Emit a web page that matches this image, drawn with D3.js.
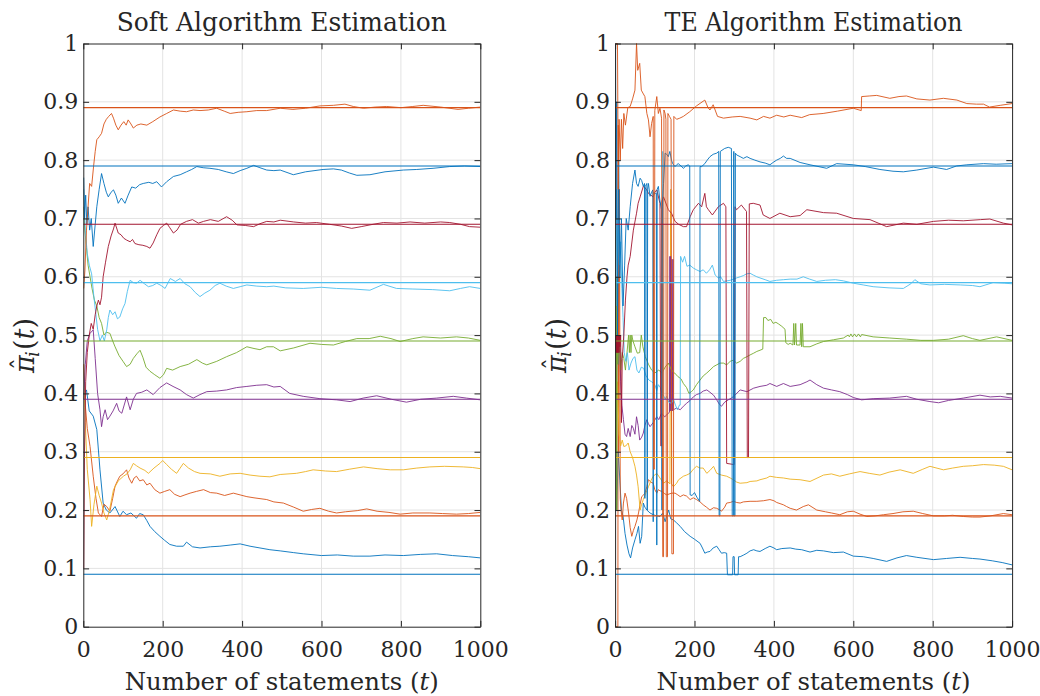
<!DOCTYPE html>
<html>
<head>
<meta charset="utf-8">
<script src="https://cdn.jsdelivr.net/npm/d3@7"></script>
<style>
body { margin: 0; background: #fff; }
text { font-family: "DejaVu Serif", "Liberation Serif", serif; fill: #262626; }
</style>
</head>
<body>
<svg id="chart" width="1040" height="696"></svg>
<script>
// true rates, one per source, and the MATLAB colour order they were drawn with
var trueRates = [0.09, 0.19, 0.29, 0.39, 0.49, 0.59, 0.69, 0.79, 0.89];
var lineColors = ["#0072BD", "#D95319", "#EDB120", "#7E2F8E", "#77AC30", "#4DBEEE", "#A2142F", "#0072BD", "#D95319"];
var xTicks = [0, 200, 400, 600, 800, 1000];
var yTicks = [0, 0.1, 0.2, 0.3, 0.4, 0.5, 0.6, 0.7, 0.8, 0.9, 1];
var yTickLabels = ["0", "0.1", "0.2", "0.3", "0.4", "0.5", "0.6", "0.7", "0.8", "0.9", "1"];
var panelTitles = ["Soft Algorithm Estimation", "TE Algorithm Estimation"];

// soft algorithm estimates, [t, pi_hat]
var soft09 = [[1,0.40],[8,0.406],[15,0.37],[25,0.361],[34,0.338],[42,0.269],[50,0.212],[58,0.20],[67,0.195],[80,0.206],[92,0.189],[100,0.198],[109,0.192],[120,0.195],[134,0.186],[142,0.194],[151,0.192],[160,0.182],[168,0.172],[180,0.163],[193,0.155],[205,0.148],[218,0.141],[235,0.138],[252,0.138],[260,0.145],[275,0.137],[294,0.135],[320,0.137],[344,0.138],[370,0.140],[395,0.142],[420,0.138],[445,0.135],[470,0.132],[496,0.130],[530,0.127],[554,0.125],[600,0.122],[640,0.123],[680,0.121],[722,0.121],[760,0.123],[806,0.122],[850,0.124],[890,0.125],[930,0.122],[970,0.120],[1000,0.118]];
var soft19 = [[1,0.45],[5,0.38],[10,0.34],[17,0.309],[25,0.258],[32,0.22],[38,0.195],[46,0.189],[52,0.21],[59,0.206],[67,0.198],[74,0.22],[80,0.241],[86,0.25],[92,0.258],[100,0.262],[109,0.269],[115,0.255],[122,0.246],[128,0.255],[134,0.258],[142,0.25],[151,0.252],[160,0.243],[168,0.246],[180,0.235],[193,0.229],[205,0.232],[218,0.235],[230,0.227],[244,0.223],[256,0.226],[269,0.229],[285,0.232],[303,0.235],[320,0.230],[336,0.229],[356,0.225],[378,0.229],[395,0.226],[412,0.223],[430,0.221],[462,0.218],[480,0.214],[504,0.212],[530,0.205],[554,0.198],[575,0.201],[596,0.203],[618,0.198],[638,0.195],[660,0.197],[690,0.199],[714,0.202],[740,0.198],[770,0.196],[798,0.193],[830,0.195],[873,0.195],[905,0.194],[940,0.193],[970,0.194],[1000,0.196]];
var soft29 = [[1,0.45],[5,0.35],[10,0.27],[17,0.218],[21,0.172],[27,0.21],[34,0.241],[40,0.225],[46,0.212],[52,0.195],[59,0.183],[66,0.2],[76,0.235],[88,0.25],[101,0.258],[110,0.262],[118,0.269],[126,0.28],[134,0.276],[143,0.272],[155,0.268],[164,0.263],[178,0.272],[193,0.28],[200,0.285],[210,0.278],[222,0.27],[235,0.263],[244,0.272],[252,0.28],[265,0.272],[280,0.266],[294,0.263],[320,0.262],[344,0.258],[370,0.262],[395,0.263],[420,0.26],[445,0.258],[470,0.257],[496,0.261],[537,0.263],[560,0.266],[579,0.269],[610,0.267],[638,0.266],[670,0.270],[706,0.274],[740,0.271],[773,0.269],[806,0.269],[840,0.272],[873,0.274],[910,0.275],[957,0.274],[980,0.273],[1000,0.271]];
var soft39 = [[1,0.39],[5,0.45],[10,0.49],[17,0.503],[25,0.509],[30,0.46],[36,0.40],[42,0.372],[46,0.343],[50,0.36],[55,0.372],[61,0.355],[67,0.361],[75,0.37],[84,0.383],[90,0.37],[97,0.366],[103,0.38],[109,0.394],[118,0.372],[126,0.39],[134,0.4],[147,0.402],[160,0.406],[176,0.398],[193,0.41],[210,0.418],[226,0.412],[244,0.406],[260,0.398],[277,0.392],[294,0.398],[311,0.403],[336,0.404],[361,0.406],[386,0.41],[412,0.412],[437,0.414],[462,0.415],[480,0.411],[496,0.412],[520,0.40],[554,0.395],[596,0.391],[638,0.389],[672,0.386],[705,0.392],[739,0.396],[776,0.39],[814,0.385],[850,0.39],[890,0.392],[932,0.395],[965,0.392],[1000,0.389]];
var soft49 = [[1,0.72],[4,0.68],[8,0.65],[12,0.62],[17,0.60],[22,0.58],[28,0.56],[34,0.55],[40,0.53],[46,0.52],[52,0.50],[58,0.505],[67,0.503],[74,0.49],[80,0.48],[90,0.465],[100,0.455],[109,0.446],[118,0.45],[126,0.46],[135,0.468],[143,0.474],[150,0.462],[158,0.445],[168,0.438],[180,0.432],[193,0.426],[202,0.432],[210,0.443],[225,0.44],[244,0.446],[265,0.45],[286,0.458],[300,0.452],[311,0.449],[336,0.455],[361,0.463],[386,0.47],[412,0.48],[430,0.477],[445,0.475],[462,0.48],[479,0.48],[496,0.473],[530,0.478],[571,0.486],[600,0.484],[630,0.483],[660,0.489],[689,0.494],[720,0.494],[748,0.498],[775,0.494],[798,0.489],[830,0.494],[856,0.497],[900,0.495],[940,0.497],[970,0.495],[1000,0.491]];
var soft59 = [[1,0.75],[5,0.68],[10,0.64],[15,0.62],[21,0.605],[26,0.57],[31,0.54],[36,0.51],[42,0.49],[48,0.50],[53,0.49],[59,0.509],[63,0.53],[67,0.543],[74,0.535],[80,0.54],[86,0.528],[92,0.531],[99,0.545],[105,0.554],[111,0.575],[118,0.594],[126,0.59],[134,0.589],[143,0.594],[154,0.588],[164,0.583],[175,0.585],[185,0.589],[196,0.585],[206,0.58],[219,0.597],[232,0.592],[244,0.597],[256,0.588],[269,0.583],[282,0.573],[294,0.566],[306,0.572],[319,0.577],[332,0.585],[344,0.589],[360,0.584],[378,0.58],[395,0.583],[412,0.586],[437,0.584],[462,0.583],[480,0.584],[510,0.581],[554,0.58],[600,0.582],[638,0.58],[680,0.579],[722,0.577],[756,0.587],[789,0.58],[830,0.579],[880,0.578],[923,0.576],[950,0.58],[973,0.583],[1000,0.58]];
var soft69 = [[1,0.10],[3,0.30],[6,0.42],[10,0.47],[15,0.5],[20,0.52],[25,0.51],[30,0.535],[34,0.55],[38,0.56],[42,0.552],[46,0.565],[50,0.60],[56,0.625],[63,0.652],[70,0.67],[76,0.682],[80,0.692],[88,0.675],[95,0.672],[102,0.666],[109,0.663],[118,0.66],[124,0.664],[130,0.657],[140,0.655],[150,0.654],[160,0.652],[168,0.649],[176,0.658],[185,0.672],[193,0.683],[202,0.688],[210,0.692],[218,0.684],[227,0.675],[236,0.68],[245,0.69],[260,0.695],[275,0.698],[290,0.692],[303,0.695],[320,0.698],[340,0.695],[361,0.703],[375,0.697],[387,0.689],[408,0.688],[429,0.686],[445,0.691],[462,0.695],[480,0.694],[496,0.697],[530,0.694],[560,0.692],[587,0.693],[620,0.690],[650,0.687],[676,0.683],[700,0.686],[730,0.69],[756,0.693],[790,0.692],[823,0.694],[860,0.692],[900,0.694],[923,0.693],[950,0.69],[973,0.686],[1000,0.685]];
var soft79 = [[1,0.77],[3,0.70],[6,0.74],[9,0.69],[12,0.72],[16,0.68],[20,0.70],[25,0.652],[30,0.69],[34,0.72],[40,0.75],[46,0.777],[52,0.76],[58,0.745],[63,0.737],[70,0.745],[76,0.749],[82,0.74],[88,0.726],[96,0.735],[105,0.726],[113,0.74],[122,0.754],[132,0.752],[142,0.758],[151,0.76],[165,0.762],[175,0.76],[185,0.763],[197,0.754],[210,0.763],[227,0.772],[244,0.775],[260,0.78],[273,0.784],[286,0.789],[302,0.787],[319,0.786],[340,0.784],[360,0.78],[378,0.777],[395,0.782],[412,0.786],[429,0.791],[445,0.787],[462,0.783],[480,0.782],[496,0.783],[529,0.775],[560,0.78],[604,0.784],[630,0.785],[650,0.783],[670,0.778],[689,0.774],[722,0.775],[760,0.78],[806,0.783],[840,0.784],[881,0.786],[923,0.789],[960,0.79],[1000,0.789]];
var soft89 = [[1,0.58],[4,0.61],[8,0.68],[12,0.72],[16,0.76],[21,0.755],[26,0.79],[30,0.815],[34,0.835],[40,0.84],[46,0.846],[52,0.862],[58,0.87],[64,0.875],[71,0.88],[76,0.872],[82,0.86],[88,0.852],[95,0.86],[102,0.866],[108,0.86],[113,0.869],[120,0.862],[126,0.855],[135,0.86],[145,0.862],[160,0.86],[175,0.866],[193,0.874],[210,0.88],[227,0.886],[244,0.884],[260,0.883],[277,0.886],[294,0.885],[315,0.886],[336,0.889],[355,0.884],[370,0.88],[390,0.882],[412,0.883],[437,0.885],[462,0.885],[496,0.889],[528,0.887],[560,0.889],[596,0.893],[630,0.894],[659,0.896],[680,0.892],[706,0.889],[735,0.891],[764,0.892],[800,0.89],[830,0.892],[856,0.894],[900,0.891],[944,0.887],[970,0.889],[1000,0.891]];

// TE algorithm estimates, [t, pi_hat]; repeated t values are the sudden jumps
var te09 = [[1,0.45],[4,0.2],[8,0.3],[12,0.25],[16,0.2],[20,0.19],[25,0.16],[30,0.14],[35,0.125],[39,0.118],[44,0.135],[50,0.149],[55,0.16],[59,0.172],[63,0.143],[67,0.155],[71,0.212],[75,0.205],[80,0.2],[88,0.195],[96,0.192],[105,0.19],[113,0.189],[120,0.195],[126,0.18],[130,0.19],[135,0.2],[140,0.185],[147,0.183],[155,0.178],[164,0.172],[175,0.163],[189,0.155],[200,0.15],[214,0.143],[220,0.135],[226,0.126],[232,0.128],[239,0.129],[247,0.135],[256,0.138],[262,0.132],[268,0.126],[275,0.127],[281,0.126],[283,0.089],[296,0.089],[297,0.12],[300,0.12],[301,0.089],[310,0.089],[311,0.12],[315,0.12],[324,0.123],[332,0.126],[340,0.13],[349,0.132],[357,0.13],[365,0.129],[378,0.134],[390,0.138],[400,0.135],[407,0.132],[420,0.134],[441,0.135],[455,0.133],[470,0.132],[491,0.128],[508,0.131],[525,0.13],[550,0.127],[575,0.128],[600,0.121],[625,0.12],[650,0.117],[684,0.112],[710,0.118],[734,0.122],[760,0.119],[802,0.115],[835,0.117],[869,0.119],[900,0.117],[919,0.116],[950,0.113],[975,0.11],[1000,0.106]];
var te19 = [[1,0.0],[7,0.0],[8,0.86],[9,0.3],[11,0.75],[13,0.22],[15,0.2],[18,0.183],[21,0.212],[25,0.229],[29,0.22],[34,0.195],[38,0.17],[42,0.155],[46,0.165],[50,0.172],[55,0.183],[59,0.195],[63,0.21],[67,0.223],[72,0.226],[75,0.229],[80,0.24],[84,0.252],[90,0.248],[96,0.246],[100,0.235],[105,0.229],[109,0.235],[113,0.233],[119,0.232],[125,0.228],[130,0.226],[138,0.228],[143,0.229],[151,0.229],[158,0.226],[164,0.223],[172,0.226],[180,0.224],[189,0.218],[197,0.221],[205,0.218],[214,0.214],[222,0.209],[230,0.205],[239,0.2],[248,0.204],[256,0.203],[264,0.2],[268,0.198],[276,0.205],[281,0.212],[290,0.213],[298,0.215],[306,0.213],[315,0.212],[323,0.214],[340,0.215],[357,0.215],[374,0.216],[390,0.218],[400,0.216],[407,0.213],[424,0.209],[432,0.206],[441,0.203],[457,0.2],[474,0.206],[487,0.209],[508,0.2],[530,0.197],[545,0.195],[566,0.192],[585,0.197],[600,0.198],[617,0.193],[634,0.189],[655,0.19],[676,0.192],[700,0.194],[725,0.197],[751,0.198],[775,0.194],[802,0.19],[830,0.19],[850,0.191],[877,0.189],[900,0.188],[919,0.188],[945,0.19],[978,0.194],[1000,0.192]];
var te29 = [[1,0.5],[3,0.3],[6,0.42],[10,0.33],[14,0.31],[18,0.32],[22,0.309],[27,0.31],[33,0.315],[38,0.3],[44,0.29],[50,0.275],[54,0.26],[58,0.24],[63,0.2],[67,0.21],[71,0.218],[78,0.23],[84,0.24],[90,0.25],[96,0.258],[105,0.263],[113,0.255],[122,0.246],[130,0.25],[138,0.245],[140,0.75],[142,0.245],[147,0.24],[155,0.246],[160,0.252],[172,0.258],[180,0.26],[189,0.263],[197,0.27],[205,0.275],[214,0.272],[222,0.272],[231,0.263],[239,0.268],[248,0.275],[256,0.263],[268,0.26],[281,0.258],[290,0.255],[298,0.252],[306,0.248],[315,0.246],[332,0.247],[340,0.249],[357,0.25],[365,0.252],[382,0.255],[390,0.258],[407,0.256],[424,0.255],[441,0.253],[466,0.252],[491,0.249],[525,0.26],[545,0.262],[566,0.258],[590,0.262],[617,0.266],[640,0.263],[667,0.26],[690,0.265],[718,0.269],[751,0.263],[775,0.27],[793,0.275],[827,0.269],[850,0.272],[877,0.275],[900,0.276],[928,0.278],[955,0.277],[978,0.275],[1000,0.269]];
var te39 = [[1,0.5],[3,0.35],[5,0.5],[8,0.45],[11,0.5],[14,0.42],[17,0.38],[21,0.355],[25,0.33],[29,0.326],[33,0.34],[38,0.326],[42,0.345],[46,0.34],[50,0.33],[54,0.36],[58,0.345],[62,0.32],[67,0.325],[71,0.332],[75,0.345],[80,0.355],[84,0.348],[88,0.343],[96,0.35],[105,0.36],[110,0.355],[117,0.366],[125,0.36],[130,0.363],[137,0.368],[138,0.635],[139,0.37],[140,0.635],[142,0.37],[143,0.63],[145,0.37],[146,0.63],[147,0.372],[155,0.375],[164,0.372],[172,0.378],[180,0.383],[189,0.388],[197,0.394],[205,0.398],[214,0.4],[222,0.404],[231,0.406],[239,0.402],[248,0.397],[256,0.389],[262,0.382],[268,0.378],[276,0.385],[285,0.389],[293,0.392],[302,0.397],[315,0.406],[332,0.403],[349,0.409],[365,0.412],[382,0.414],[390,0.417],[407,0.412],[424,0.417],[441,0.412],[466,0.415],[483,0.42],[491,0.423],[508,0.415],[525,0.409],[545,0.406],[566,0.403],[585,0.398],[600,0.393],[621,0.389],[650,0.391],[692,0.392],[734,0.395],[760,0.39],[793,0.386],[815,0.384],[840,0.388],[877,0.392],[919,0.397],[945,0.394],[970,0.395],[1000,0.392]];
var te49 = [[1,0.68],[2,0.3],[3,0.6],[4,0.2],[5,0.5],[7,0.45],[10,0.5],[14,0.44],[18,0.47],[22,0.46],[26,0.44],[30,0.47],[34,0.5],[36,0.47],[38,0.5],[40,0.47],[42,0.5],[45,0.49],[50,0.48],[56,0.469],[62,0.47],[66,0.5],[70,0.48],[76,0.463],[84,0.45],[92,0.44],[100,0.435],[110,0.44],[118,0.435],[126,0.445],[134,0.452],[142,0.44],[150,0.435],[158,0.429],[166,0.425],[172,0.417],[180,0.41],[186,0.4],[192,0.403],[197,0.406],[205,0.415],[214,0.423],[222,0.43],[231,0.435],[239,0.44],[248,0.446],[256,0.449],[264,0.452],[273,0.452],[281,0.449],[290,0.455],[298,0.457],[306,0.452],[315,0.455],[323,0.46],[332,0.463],[340,0.466],[349,0.469],[357,0.472],[365,0.474],[372,0.476],[374,0.53],[380,0.53],[385,0.525],[392,0.527],[398,0.52],[405,0.522],[412,0.519],[420,0.515],[428,0.51],[430,0.487],[436,0.484],[441,0.486],[448,0.483],[450,0.52],[452,0.483],[455,0.52],[457,0.483],[466,0.483],[468,0.52],[470,0.48],[472,0.52],[474,0.48],[491,0.48],[508,0.485],[525,0.489],[550,0.492],[575,0.495],[587,0.5],[590,0.497],[594,0.502],[598,0.497],[603,0.502],[608,0.497],[613,0.502],[618,0.497],[621,0.501],[650,0.497],[692,0.495],[734,0.493],[770,0.491],[802,0.491],[840,0.493],[877,0.499],[900,0.494],[919,0.491],[961,0.497],[1000,0.491]];
var te59 = [[1,0.6],[3,0.75],[5,0.55],[8,0.7],[11,0.62],[14,0.66],[17,0.58],[20,0.53],[23,0.47],[27,0.455],[31,0.47],[35,0.44],[40,0.452],[45,0.46],[50,0.463],[55,0.44],[60,0.435],[66,0.445],[72,0.443],[78,0.43],[85,0.423],[92,0.42],[100,0.415],[105,0.405],[109,0.415],[114,0.41],[119,0.397],[120,0.815],[121,0.398],[126,0.39],[130,0.395],[135,0.385],[142,0.383],[147,0.39],[152,0.38],[157,0.372],[162,0.38],[164,0.38],[165,0.635],[170,0.625],[175,0.635],[181,0.618],[188,0.62],[197,0.615],[205,0.612],[214,0.609],[222,0.612],[230,0.606],[238,0.612],[245,0.62],[252,0.603],[260,0.598],[266,0.6],[273,0.592],[282,0.593],[290,0.594],[298,0.596],[306,0.598],[315,0.6],[323,0.602],[331,0.605],[340,0.606],[348,0.603],[357,0.6],[365,0.598],[378,0.595],[390,0.592],[407,0.594],[424,0.595],[441,0.596],[458,0.596],[474,0.6],[490,0.596],[508,0.592],[530,0.594],[555,0.595],[575,0.593],[600,0.589],[625,0.586],[650,0.583],[690,0.581],[726,0.58],[745,0.588],[755,0.595],[770,0.588],[793,0.586],[830,0.587],[870,0.586],[900,0.585],[919,0.583],[952,0.59],[980,0.589],[1000,0.588]];
var te69 = [[1,0.5],[2,0.47],[3,0.5],[4,0.47],[5,0.5],[6,0.47],[7,0.5],[8,0.47],[9,0.5],[10,0.47],[11,0.5],[12,0.48],[14,0.5],[16,0.35],[18,0.46],[22,0.5],[26,0.56],[30,0.6],[33,0.62],[38,0.635],[46,0.68],[54,0.709],[58,0.726],[63,0.737],[71,0.755],[79,0.75],[84,0.743],[90,0.74],[96,0.737],[100,0.745],[105,0.749],[113,0.726],[115,0.31],[117,0.31],[118,0.73],[122,0.737],[134,0.715],[142,0.709],[151,0.695],[160,0.69],[172,0.686],[180,0.686],[189,0.703],[197,0.715],[210,0.726],[218,0.72],[226,0.743],[230,0.72],[235,0.715],[245,0.706],[260,0.72],[273,0.726],[279,0.72],[281,0.28],[300,0.278],[302,0.72],[306,0.715],[318,0.723],[331,0.712],[333,0.29],[336,0.29],[338,0.725],[348,0.726],[365,0.723],[373,0.706],[390,0.7],[415,0.709],[441,0.703],[466,0.705],[483,0.715],[525,0.71],[558,0.709],[600,0.7],[642,0.698],[684,0.686],[726,0.692],[760,0.69],[802,0.695],[840,0.697],[877,0.696],[920,0.698],[944,0.699],[978,0.692],[1000,0.689]];
var te79 = [[1,1.0],[2,0.7],[4,0.9],[6,0.5],[9,0.8],[12,0.6],[16,0.7],[20,0.55],[24,0.62],[28,0.70],[33,0.68],[38,0.72],[44,0.76],[50,0.783],[54,0.76],[58,0.755],[63,0.769],[67,0.765],[71,0.755],[74,0.76],[75,0.22],[76,0.755],[80,0.76],[81,0.2],[82,0.75],[84,0.76],[88,0.738],[92,0.745],[95,0.749],[96,0.18],[97,0.745],[101,0.743],[104,0.743],[105,0.14],[106,0.75],[109,0.755],[113,0.73],[117,0.715],[118,0.2],[119,0.72],[122,0.76],[126,0.812],[130,0.81],[134,0.806],[138,0.815],[142,0.80],[145,0.794],[151,0.789],[155,0.792],[159,0.794],[166,0.79],[172,0.786],[178,0.79],[184,0.792],[188,0.79],[189,0.226],[194,0.225],[200,0.23],[206,0.222],[213,0.215],[214,0.789],[218,0.789],[226,0.794],[232,0.8],[239,0.806],[247,0.81],[256,0.812],[261,0.815],[262,0.19],[264,0.19],[265,0.815],[276,0.82],[285,0.822],[293,0.82],[295,0.19],[298,0.19],[299,0.815],[300,0.19],[302,0.19],[303,0.812],[306,0.809],[315,0.806],[323,0.803],[332,0.806],[340,0.803],[352,0.8],[365,0.797],[378,0.795],[390,0.792],[400,0.797],[407,0.8],[416,0.803],[424,0.807],[432,0.803],[441,0.803],[466,0.796],[491,0.792],[533,0.786],[558,0.794],[600,0.792],[630,0.789],[667,0.784],[700,0.781],[726,0.78],[760,0.783],[802,0.788],[835,0.784],[860,0.79],[886,0.792],[928,0.794],[960,0.793],[1000,0.794]];
var te89 = [[1,1.0],[6,1.0],[8,0.75],[10,0.87],[13,0.80],[16,0.87],[19,0.82],[22,0.88],[26,0.86],[32,0.89],[38,0.892],[44,0.905],[50,0.92],[54,1.0],[57,0.954],[62,0.966],[66,0.92],[70,0.915],[75,0.909],[80,0.88],[84,0.869],[88,0.84],[92,0.863],[96,0.875],[97,0.27],[99,0.27],[100,0.885],[105,0.909],[109,0.88],[113,0.889],[117,0.872],[120,0.12],[122,0.12],[123,0.886],[126,0.88],[128,0.87],[129,0.12],[132,0.12],[133,0.88],[137,0.875],[141,0.87],[143,0.125],[147,0.125],[148,0.875],[155,0.87],[163,0.872],[172,0.875],[188,0.883],[205,0.893],[226,0.903],[234,0.89],[239,0.886],[247,0.895],[258,0.875],[273,0.872],[295,0.874],[315,0.875],[340,0.872],[357,0.869],[374,0.875],[390,0.872],[407,0.877],[425,0.874],[441,0.877],[470,0.873],[490,0.878],[524,0.88],[560,0.884],[600,0.889],[620,0.885],[621,0.909],[640,0.91],[659,0.911],[692,0.906],[715,0.909],[734,0.91],[760,0.905],[793,0.903],[827,0.906],[861,0.903],[886,0.897],[910,0.896],[928,0.896],[943,0.891],[970,0.894],[1000,0.897]];

var softSeries = [soft09, soft19, soft29, soft39, soft49, soft59, soft69, soft79, soft89];
var teSeries = [te09, te19, te29, te39, te49, te59, te69, te79, te89];

var svg = d3.select("#chart");
var axisColor = "#262626";
var serif = "DejaVu Serif, Liberation Serif, serif";

drawPanel(83.3, panelTitles[0], softSeries, "soft");
drawPanel(615.1, panelTitles[1], teSeries, "te");

function drawPanel(left, title, series, id) {
  var w = 397, top = 43.5, bottom = 626.7;
  var x = d3.scaleLinear().domain([0, 1000]).range([left, left + w]);
  var y = d3.scaleLinear().domain([0, 1]).range([bottom, top]);
  var g = svg.append("g");

  // grid
  g.selectAll(".gx").data(xTicks.slice(1, -1)).enter().append("line")
    .attr("x1", d => x(d)).attr("x2", d => x(d))
    .attr("y1", top).attr("y2", bottom)
    .attr("stroke", "#e3e3e3").attr("stroke-width", 1);
  g.selectAll(".gy").data(yTicks.slice(1, -1)).enter().append("line")
    .attr("x1", left).attr("x2", left + w)
    .attr("y1", d => y(d)).attr("y2", d => y(d))
    .attr("stroke", "#e3e3e3").attr("stroke-width", 1);

  svg.append("clipPath").attr("id", "clip-" + id).append("rect")
    .attr("x", left).attr("y", top - 1).attr("width", w).attr("height", bottom - top + 2);
  var plot = g.append("g").attr("clip-path", "url(#clip-" + id + ")");

  var line = d3.line().x(d => x(d[0])).y(d => y(d[1]));
  series.forEach(function(s, i) {
    plot.append("path").datum(s)
      .attr("d", line)
      .attr("fill", "none")
      .attr("stroke", lineColors[i])
      .attr("stroke-width", 0.9)
      .attr("stroke-linejoin", "round");
  });
  trueRates.forEach(function(r, i) {
    plot.append("line")
      .attr("x1", x(0)).attr("x2", x(1000))
      .attr("y1", y(r)).attr("y2", y(r))
      .attr("stroke", lineColors[i]).attr("stroke-width", 1.1);
  });

  // box axes, ticks pointing in (MATLAB style)
  var ax = g.append("g").attr("transform", "translate(0," + bottom + ")")
    .call(d3.axisBottom(x).tickValues(xTicks).tickFormat(d3.format("d"))
      .tickSizeInner(-5.8).tickSizeOuter(0).tickPadding(15));
  var ay = g.append("g").attr("transform", "translate(" + left + ",0)")
    .call(d3.axisLeft(y).tickValues(yTicks).tickFormat((d, i) => yTickLabels[i])
      .tickSizeInner(-5.8).tickSizeOuter(0).tickPadding(5));
  var at = g.append("g").attr("transform", "translate(0," + top + ")")
    .call(d3.axisTop(x).tickValues(xTicks).tickFormat("").tickSizeInner(-5.8).tickSizeOuter(0));
  var ar = g.append("g").attr("transform", "translate(" + (left + w) + ",0)")
    .call(d3.axisRight(y).tickValues(yTicks).tickFormat("").tickSizeInner(-5.8).tickSizeOuter(0));
  [ax, ay, at, ar].forEach(function(a) {
    a.attr("font-family", serif);
    a.selectAll("path.domain").attr("stroke", axisColor).attr("stroke-width", 1);
    a.selectAll(".tick line").attr("stroke", axisColor).attr("stroke-width", 1);
    a.selectAll("text").attr("font-size", 22).attr("fill", axisColor);
  });

  // title
  svg.append("text")
    .attr("x", left + w / 2).attr("y", 31)
    .attr("text-anchor", "middle")
    .attr("font-size", 26)
    .attr("textLength", id === "soft" ? 330 : 298)
    .attr("lengthAdjust", "spacingAndGlyphs")
    .text(title);

  // x label
  var xl = svg.append("text")
    .attr("x", left + w / 2).attr("y", 690)
    .attr("text-anchor", "middle")
    .attr("font-size", 24)
    .attr("textLength", 314)
    .attr("lengthAdjust", "spacingAndGlyphs");
  xl.append("tspan").text("Number of statements (");
  xl.append("tspan").attr("font-style", "italic").text("t");
  xl.append("tspan").text(")");

  // y label  \hat{\pi}_i(t)
  var yg = svg.append("g")
    .attr("transform", "translate(" + (left - 49) + ",342) rotate(-90)");
  yg.append("text").attr("x", -31).attr("y", 0)
    .attr("font-size", 27).attr("font-style", "italic").text("\u03C0");
  yg.append("text").attr("x", -22).attr("y", -5)
    .attr("text-anchor", "middle").attr("font-size", 24).text("\u02C6");
  yg.append("text").attr("x", -15).attr("y", 5)
    .attr("font-size", 18).attr("font-style", "italic").text("i");
  var yt = yg.append("text").attr("x", -8).attr("y", 0).attr("font-size", 27);
  yt.append("tspan").text("(");
  yt.append("tspan").attr("font-style", "italic").text("t");
  yt.append("tspan").text(")");
}
</script>
</body>
</html>
